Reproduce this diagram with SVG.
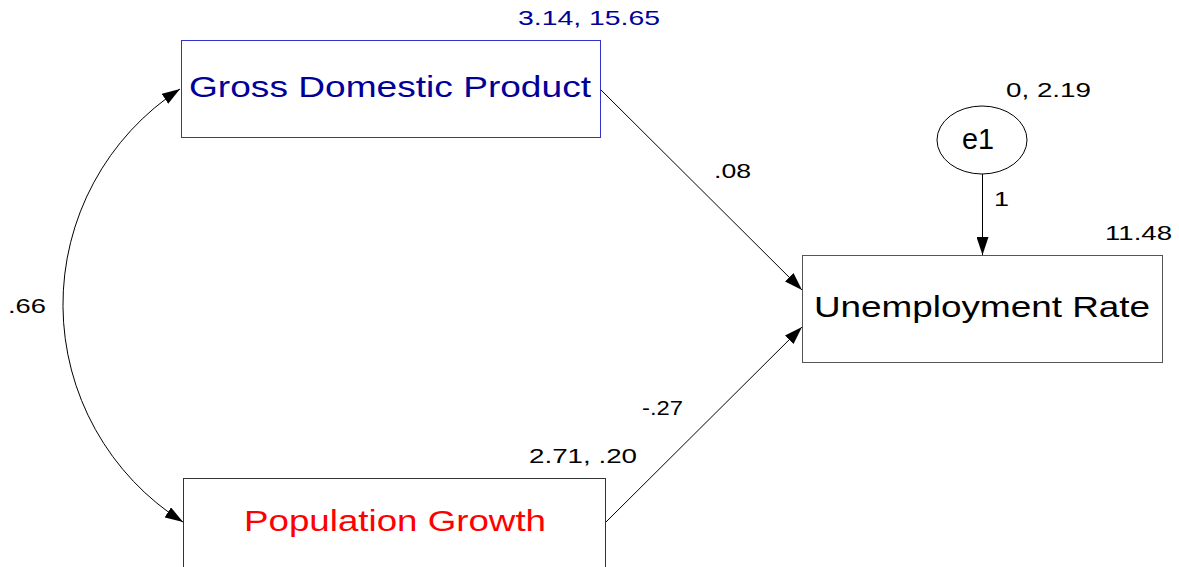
<svg xmlns="http://www.w3.org/2000/svg" width="1179" height="567" viewBox="0 0 1179 567">
<style>
text { font-family: "Liberation Sans", Arial, sans-serif; }
.big { font-size: 29px; }
.sm { font-size: 21px; fill: #000; }
.box { fill: #fff; stroke-width: 1; }
.conn { fill: none; stroke: #000; stroke-width: 1; }
</style>
<defs>
<marker id="arr" viewBox="0 0 18 12" refX="18" refY="6" markerWidth="18" markerHeight="12" markerUnits="userSpaceOnUse" orient="auto-start-reverse">
<path d="M0,0 L18,6 L0,12 z" fill="#000"/>
</marker>
</defs>
<rect width="1179" height="567" fill="#fff"/>
<g id="connectors">
<path class="conn" d="M183,522 A257,257 0 0 1 180,89" marker-start="url(#arr)" marker-end="url(#arr)"/>
<line class="conn" x1="600" y1="89" x2="802" y2="290" marker-end="url(#arr)"/>
<line class="conn" x1="606" y1="522" x2="802" y2="327" marker-end="url(#arr)"/>
<line class="conn" x1="982.5" y1="174" x2="982.5" y2="255" marker-end="url(#arr)"/>
<text class="sm" x="714" y="178" textLength="37" lengthAdjust="spacingAndGlyphs">.08</text>
<text class="sm" x="8" y="313" textLength="38" lengthAdjust="spacingAndGlyphs">.66</text>
<text class="sm" x="642" y="415" textLength="41" lengthAdjust="spacingAndGlyphs">-.27</text>
<text class="sm" x="994" y="206" textLength="15" lengthAdjust="spacingAndGlyphs">1</text>
</g>
<g id="gdp">
<rect class="box" x="181.5" y="40.5" width="419" height="97" stroke="#3333cc"/>
<text class="big" x="189" y="97" fill="#000099" textLength="402" lengthAdjust="spacingAndGlyphs">Gross Domestic Product</text>
<text class="sm" x="518" y="25" style="fill:#000099" textLength="142" lengthAdjust="spacingAndGlyphs">3.14, 15.65</text>
</g>
<g id="pop">
<rect class="box" x="183.5" y="478.5" width="422" height="120" stroke="#333"/>
<text class="big" x="244" y="531" fill="#ff0000" textLength="302" lengthAdjust="spacingAndGlyphs">Population Growth</text>
<text class="sm" x="529" y="463" textLength="108" lengthAdjust="spacingAndGlyphs">2.71, .20</text>
</g>
<g id="unemp">
<rect class="box" x="802.5" y="255.5" width="360" height="107" stroke="#555"/>
<text class="big" x="814" y="317" fill="#000" textLength="336" lengthAdjust="spacingAndGlyphs">Unemployment Rate</text>
<text class="sm" x="1105" y="240" textLength="67" lengthAdjust="spacingAndGlyphs">11.48</text>
</g>
<g id="e1">
<ellipse cx="982" cy="140" rx="45" ry="34" fill="#fff" stroke="#000" stroke-width="1"/>
<text class="big" x="962" y="149" fill="#000" textLength="32" lengthAdjust="spacingAndGlyphs">e1</text>
<text class="sm" x="1006" y="97" textLength="85" lengthAdjust="spacingAndGlyphs">0, 2.19</text>
</g>
</svg>
